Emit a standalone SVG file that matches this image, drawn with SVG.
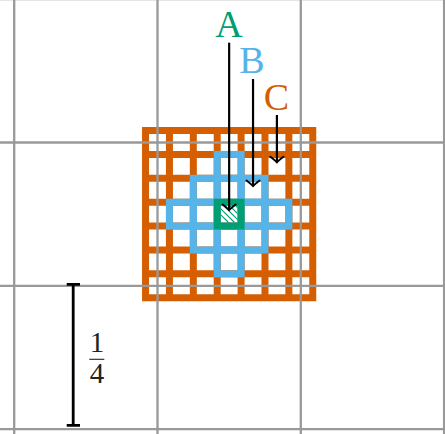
<svg xmlns="http://www.w3.org/2000/svg" width="445" height="434" viewBox="0 0 445 434">
<style>
.gray{stroke:#999;stroke-width:2.3;fill:none}
.org{stroke:#D55E00;stroke-width:7;stroke-linecap:square;fill:none}
.blu{stroke:#56B4E9;stroke-width:7;fill:none}
.grn{stroke:#009E73;stroke-width:7;fill:none}
.hatch{stroke:#009E73;stroke-width:1.2}
.arr{stroke:#000;stroke-width:2.2;fill:none}
.lbl{font-family:"Liberation Serif",serif;font-size:38px;text-anchor:middle}
.frac{font-family:"Liberation Serif",serif;font-size:29px;text-anchor:middle;fill:#222}
</style>
<defs>
<marker id="ah" markerUnits="userSpaceOnUse" viewBox="-8 -8 16 16" markerWidth="16" markerHeight="16" refX="0" refY="0" orient="auto">
<path d="M -5.5 -6.5 Q -1.5 -1.5 0 0 Q -1.5 1.5 -5.5 6.5" stroke="#000" stroke-width="2" fill="none" stroke-linecap="round"/>
</marker>
<clipPath id="gin"><rect x="220.7" y="205.7" width="16.9" height="16.9"/></clipPath>
</defs>
<g id="C-region">
<path class="org" d="M145.55 130.55V297.76 M169.44 130.55V297.76 M193.33 130.55V297.76 M217.21 130.55V297.76 M241.1 130.55V297.76 M264.99 130.55V297.76 M288.87 130.55V297.76 M312.76 130.55V297.76 M145.55 130.55H312.76 M145.55 154.44H312.76 M145.55 178.33H312.76 M145.55 202.21H312.76 M145.55 226.1H312.76 M145.55 249.99H312.76 M145.55 273.87H312.76 M145.55 297.76H312.76"/>
</g>
<g id="B-region">
<rect class="blu" x="217.21" y="154.44" width="23.89" height="23.89"/>
<rect class="blu" x="193.33" y="178.33" width="23.89" height="23.89"/>
<rect class="blu" x="217.21" y="178.33" width="23.89" height="23.89"/>
<rect class="blu" x="241.1" y="178.33" width="23.89" height="23.89"/>
<rect class="blu" x="169.44" y="202.21" width="23.89" height="23.89"/>
<rect class="blu" x="193.33" y="202.21" width="23.89" height="23.89"/>
<rect class="blu" x="241.1" y="202.21" width="23.89" height="23.89"/>
<rect class="blu" x="264.99" y="202.21" width="23.89" height="23.89"/>
<rect class="blu" x="193.33" y="226.1" width="23.89" height="23.89"/>
<rect class="blu" x="217.21" y="226.1" width="23.89" height="23.89"/>
<rect class="blu" x="241.1" y="226.1" width="23.89" height="23.89"/>
<rect class="blu" x="217.21" y="249.99" width="23.89" height="23.89"/>
</g>
<g id="A-region">
<rect class="grn" x="217.21" y="202.21" width="23.89" height="23.89"/>
<g clip-path="url(#gin)">
<path class="hatch" d="M211 187L251 227 M211 193L251 233 M211 199L251 239 M211 205L251 245 M211 181L251 221"/>
</g>
</g>
<g id="grid">
<path class="gray" d="M14.2 -2V434 M157.5 -2V434 M300.8 -2V434 M444.1 -2V434 M0 -0.8H445 M0 142.5H445 M0 285.8H445 M0 429.1H445"/>
</g>
<g id="connectors">
<line class="arr" x1="229.15" y1="42.7" x2="229.15" y2="210" marker-end="url(#ah)"/>
<line class="arr" x1="253.04" y1="79" x2="253.04" y2="186" marker-end="url(#ah)"/>
<line class="arr" x1="276.9" y1="115" x2="276.9" y2="162.3" marker-end="url(#ah)"/>
</g>
<g id="labels">
<text class="lbl" x="229" y="36.5" fill="#009E73">A</text>
<text class="lbl" x="252" y="72.5" fill="#56B4E9">B</text>
<text class="lbl" x="276.5" y="109.5" fill="#D55E00">C</text>
</g>
<g id="scale">
<path d="M73.2 284.3V425.3" stroke="#000" stroke-width="2.8" fill="none"/>
<path d="M66.7 284.3H80 M66.7 425.3H80" stroke="#000" stroke-width="2.7" fill="none"/>
<text class="frac" x="97" y="351.7">1</text>
<line x1="89.3" y1="359.3" x2="104.3" y2="359.3" stroke="#222" stroke-width="1.1"/>
<text class="frac" x="97" y="383.3">4</text>
</g>
</svg>
